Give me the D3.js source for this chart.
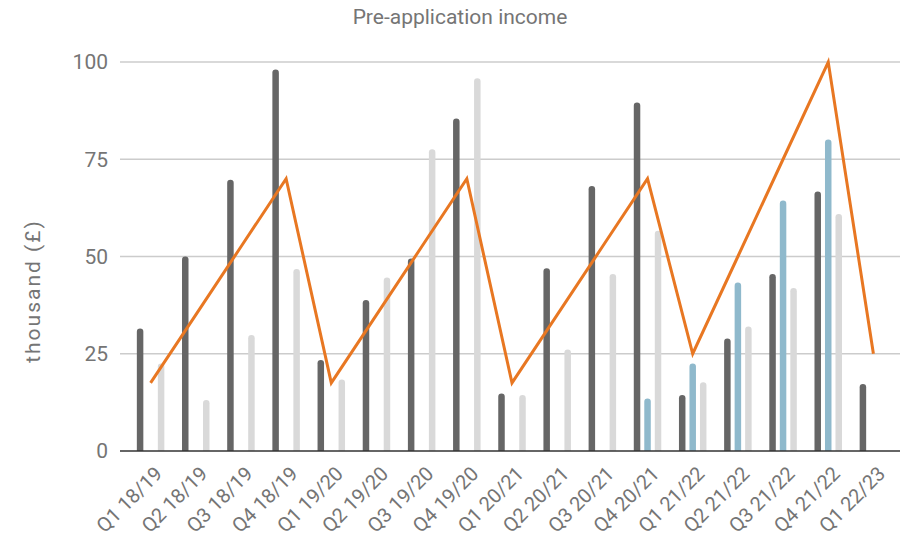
<!DOCTYPE html>
<meta charset="utf-8">
<script src="https://d3js.org/d3.v7.min.js"></script>
<style>
  body { margin: 0; background: #fff; }
  text { font-family: Roboto, "Noto Sans", sans-serif; fill: #757575; }
</style>
<div id="chart"></div>
<script>
// quarters along the x axis
var quarters = ["Q1 18/19", "Q2 18/19", "Q3 18/19", "Q4 18/19",
  "Q1 19/20", "Q2 19/20", "Q3 19/20", "Q4 19/20",
  "Q1 20/21", "Q2 20/21", "Q3 20/21", "Q4 20/21",
  "Q1 21/22", "Q2 21/22", "Q3 21/22", "Q4 21/22",
  "Q1 22/23"];

// income per quarter, thousand (£) - null where there is no bar
var darkSeries = [31.5, 50, 69.7, 98.1, 23.4, 38.8, 49.5, 85.5, 14.8, 47, 68.1, 89.6, 14.4, 28.9, 45.5, 66.7, 17.2];
var blueSeries = [null, null, null, null, null, null, null, null, null, null, null, 13.5, 22.5, 43.3, 64.4, 80.1, null];
var lightSeries = [22.5, 13.1, 29.8, 46.8, 18.4, 44.6, 77.6, 95.8, 14.4, 26.1, 45.5, 56.6, 17.7, 32, 41.9, 60.9, null];
// cumulative target line
var target = [17.5, 35, 52.5, 70, 17.5, 35, 52.5, 70, 17.5, 35, 52.5, 70, 25, 50, 75, 100, 25];

var yTicks = [0, 25, 50, 75, 100];

var W = 900, H = 540;
var margin = {top: 62, right: 0, bottom: 89, left: 120};

var svg = d3.select("#chart").append("svg")
  .attr("width", W).attr("height", H);

var x = d3.scaleBand()
  .domain(quarters)
  .range([128, 896])
  .padding(0);

var y = d3.scaleLinear()
  .domain([0, 100])
  .range([H - margin.bottom, margin.top]);

// gridlines
svg.append("g")
  .selectAll("line")
  .data(yTicks.filter(d => d > 0))
  .enter().append("line")
  .attr("x1", margin.left).attr("x2", W)
  .attr("y1", d => y(d)).attr("y2", d => y(d))
  .style("stroke", "#cccccc").style("stroke-width", 1.5);

// y tick labels
svg.append("g")
  .selectAll("text")
  .data(yTicks)
  .enter().append("text")
  .attr("x", 108)
  .attr("y", d => y(d))
  .attr("dy", "0.35em")
  .attr("text-anchor", "end")
  .style("font-size", "21px")
  .text(d => d);

svg.append("defs").append("clipPath").attr("id", "plotclip")
  .append("rect").attr("x", 0).attr("y", 0).attr("width", W).attr("height", y(0));

var barW = 6.5;
var offset = 10.5;
var series = [
  {vals: darkSeries, color: "#666666", dx: -offset},
  {vals: blueSeries, color: "#8fb9cc", dx: 0},
  {vals: lightSeries, color: "#d9d9d9", dx: offset}
];

var bars = svg.append("g").attr("clip-path", "url(#plotclip)");
series.forEach(function(s) {
  bars.selectAll(null)
    .data(quarters.map((q, i) => ({q: q, v: s.vals[i]})).filter(d => d.v != null))
    .enter().append("rect")
    .attr("x", d => x(d.q) + x.bandwidth() / 2 + s.dx - barW / 2)
    .attr("y", d => y(d.v))
    .attr("width", barW)
    .attr("height", d => y(0) - y(d.v) + 10)
    .attr("rx", barW / 2)
    .style("fill", s.color);
});

// baseline
svg.append("line")
  .attr("x1", margin.left).attr("x2", W)
  .attr("y1", y(0)).attr("y2", y(0))
  .style("stroke", "#333333").style("stroke-width", 1.5);

// target line
var line = d3.line()
  .x((d, i) => x(quarters[i]) + x.bandwidth() / 2)
  .y(d => y(d));

svg.append("path")
  .datum(target)
  .attr("d", line)
  .style("fill", "none")
  .style("stroke", "#e87722")
  .style("stroke-width", 3);

// x labels
svg.append("g")
  .selectAll("text")
  .data(quarters)
  .enter().append("text")
  .attr("transform", d => "translate(" + (x(d) + x.bandwidth() / 2 + 8) + "," + (y(0) + 19) + ") rotate(-45)")
  .attr("text-anchor", "end")
  .attr("dy", "0.35em")
  .style("font-size", "20px")
  .text(d => d);

// title
svg.append("text")
  .attr("x", 460).attr("y", 24)
  .attr("text-anchor", "middle")
  .style("font-size", "21px")
  .text("Pre-application income");

// y axis title
svg.append("text")
  .attr("transform", "translate(40,291) rotate(-90)")
  .attr("text-anchor", "middle")
  .style("font-size", "21px")
  .style("letter-spacing", "2px")
  .text("thousand (£)");
</script>
